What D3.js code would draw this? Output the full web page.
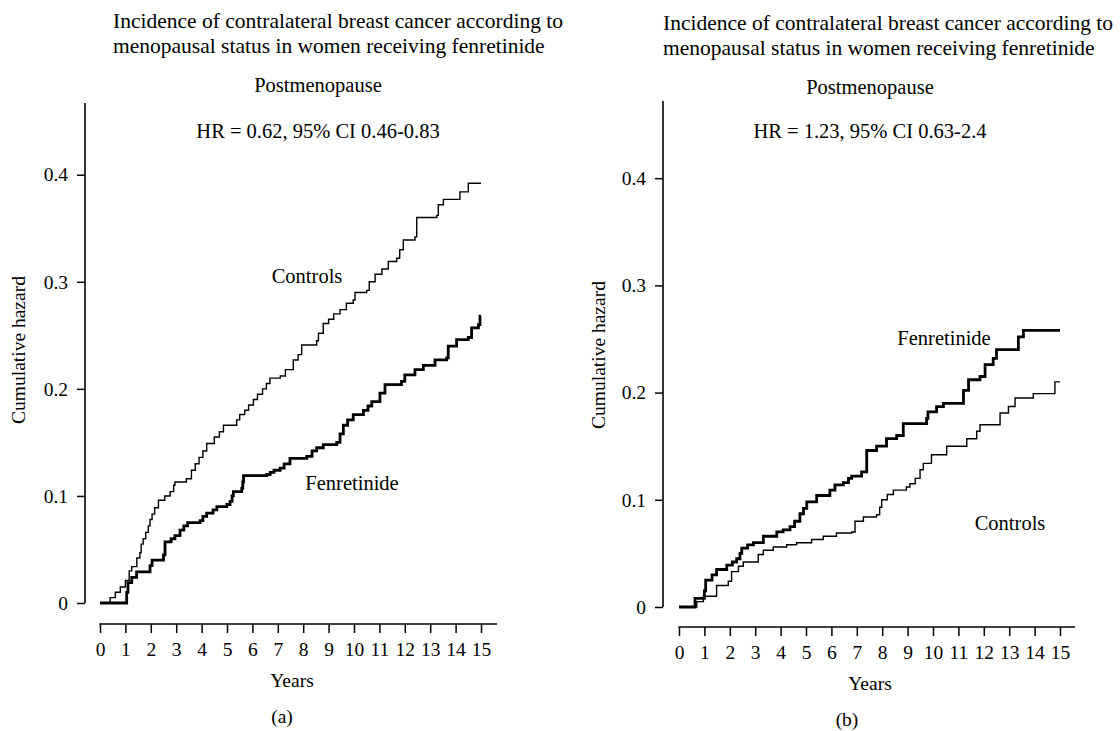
<!DOCTYPE html>
<html>
<head>
<meta charset="utf-8">
<script src="https://cdn.jsdelivr.net/npm/d3@7"></script>
<style>
  body { margin: 0; background: #fff; }
  svg { display: block; }
  svg text { font-family: "Liberation Serif", "DejaVu Serif", serif; fill: #000; }
</style>
</head>
<body>
<script>
// tick labels
const yearTicks = d3.range(0, 16);
const hazardTicks = [0, 0.1, 0.2, 0.3, 0.4];

// panel (a): step times (years) and cumulative hazard
const aControlsT = [0, 0.4, 0.6, 0.8, 1.0, 1.15, 1.25, 1.45, 1.57, 1.62, 1.7, 1.8, 1.9, 1.97, 2.05, 2.15, 2.3, 2.55, 2.76, 2.9, 2.95, 3.4, 3.6, 3.75, 3.9, 4.05, 4.2, 4.5, 4.7, 4.86, 5.38, 5.5, 5.7, 5.85, 6.04, 6.2, 6.4, 6.55, 6.69, 7.1, 7.3, 7.61, 7.8, 7.94, 8.53, 8.6, 8.79, 9.0, 9.2, 9.45, 9.7, 9.97, 10.04, 10.5, 10.6, 10.83, 11.1, 11.35, 11.68, 11.8, 11.94, 12.4, 12.47, 13.26, 13.32, 13.52, 14.17, 14.5, 15.0];
const aControlsV = [0, 0.005, 0.01, 0.015, 0.021, 0.03, 0.034, 0.042, 0.047, 0.055, 0.06, 0.066, 0.072, 0.078, 0.083, 0.089, 0.096, 0.1, 0.104, 0.11, 0.113, 0.116, 0.124, 0.13, 0.136, 0.142, 0.149, 0.155, 0.16, 0.166, 0.171, 0.176, 0.18, 0.185, 0.19, 0.195, 0.2, 0.205, 0.21, 0.212, 0.218, 0.227, 0.232, 0.241, 0.245, 0.252, 0.261, 0.265, 0.27, 0.274, 0.28, 0.283, 0.29, 0.292, 0.3, 0.307, 0.312, 0.319, 0.322, 0.33, 0.339, 0.342, 0.36, 0.362, 0.372, 0.377, 0.384, 0.392, 0.392];

const aFenT = [0, 1.05, 1.1, 1.25, 1.44, 1.97, 2.05, 2.5, 2.56, 2.8, 2.95, 3.15, 3.3, 3.45, 3.94, 4.05, 4.2, 4.45, 4.6, 4.99, 5.12, 5.2, 5.25, 5.58, 5.62, 5.65, 6.56, 6.7, 6.85, 7.09, 7.25, 7.48, 8.14, 8.35, 8.53, 8.79, 9.32, 9.45, 9.58, 9.75, 9.97, 10.37, 10.55, 10.7, 11.02, 11.22, 11.87, 12.0, 12.4, 12.73, 13.19, 13.65, 13.71, 14.04, 14.5, 14.63, 14.9, 14.96, 15.0];
const aFenV = [0, 0.01, 0.019, 0.024, 0.029, 0.035, 0.04, 0.045, 0.057, 0.06, 0.063, 0.068, 0.072, 0.075, 0.077, 0.081, 0.084, 0.087, 0.09, 0.092, 0.095, 0.1, 0.104, 0.107, 0.113, 0.119, 0.12, 0.122, 0.124, 0.126, 0.13, 0.135, 0.137, 0.142, 0.145, 0.148, 0.15, 0.158, 0.166, 0.171, 0.176, 0.18, 0.184, 0.188, 0.196, 0.204, 0.207, 0.213, 0.218, 0.222, 0.227, 0.229, 0.24, 0.246, 0.248, 0.257, 0.26, 0.268, 0.268];

// panel (b)
const bFenT = [0, 0.63, 1.0, 1.05, 1.3, 1.48, 1.88, 2.1, 2.27, 2.4, 2.47, 2.7, 2.93, 3.32, 3.85, 4.1, 4.37, 4.55, 4.76, 4.9, 5.03, 5.42, 5.94, 6.14, 6.47, 6.67, 6.8, 7.19, 7.39, 7.78, 8.17, 8.57, 8.83, 9.75, 9.8, 10.14, 10.41, 11.2, 11.4, 11.85, 12.05, 12.37, 12.5, 13.36, 13.56, 15.0];
const bFenV = [0, 0.008, 0.015, 0.025, 0.03, 0.035, 0.039, 0.042, 0.045, 0.05, 0.055, 0.058, 0.06, 0.066, 0.07, 0.072, 0.075, 0.08, 0.087, 0.092, 0.098, 0.104, 0.109, 0.114, 0.116, 0.12, 0.122, 0.126, 0.146, 0.15, 0.157, 0.16, 0.171, 0.176, 0.182, 0.187, 0.19, 0.202, 0.212, 0.215, 0.226, 0.232, 0.24, 0.252, 0.258, 0.258];

const bControlsT = [0, 0.7, 0.96, 1.48, 1.94, 2.07, 2.34, 2.53, 3.12, 3.32, 3.71, 4.24, 4.63, 5.22, 5.68, 6.2, 6.8, 6.93, 7.26, 7.78, 7.9, 7.98, 8.2, 8.44, 8.95, 9.09, 9.3, 9.49, 9.62, 9.94, 10.54, 11.33, 11.72, 11.85, 12.64, 12.97, 13.23, 13.95, 14.8, 15.0];
const bControlsV = [0, 0.005, 0.01, 0.02, 0.024, 0.033, 0.038, 0.042, 0.049, 0.053, 0.056, 0.058, 0.06, 0.063, 0.066, 0.069, 0.07, 0.08, 0.084, 0.086, 0.093, 0.1, 0.105, 0.109, 0.112, 0.115, 0.12, 0.128, 0.134, 0.142, 0.15, 0.157, 0.164, 0.17, 0.181, 0.187, 0.195, 0.199, 0.21, 0.21];

const titleLines = ["Incidence of contralateral breast cancer according to", "menopausal status in women receiving fenretinide"];

const width = 1120, height = 731;
const serif = "Liberation Serif, DejaVu Serif, serif";

const svg = d3.select("body").append("svg")
  .attr("width", width)
  .attr("height", height);

function zipSeries(ts, vs) {
  return ts.map((t, i) => ({ t, v: vs[i] }));
}

function drawPanel(p) {
  const g = svg.append("g").attr("font-family", serif);

  const x = d3.scaleLinear().domain([0, 15]).range([p.x0, p.x1]);
  const y = d3.scaleLinear().domain([0, p.yTop]).range([p.y0, p.y1]);

  // title block
  g.append("text")
    .attr("x", p.titleX).attr("y", p.titleY)
    .attr("font-size", 21.5)
    .selectAll("tspan")
    .data(titleLines)
    .join("tspan")
    .attr("x", p.titleX)
    .attr("dy", (d, i) => i ? 25 : 0)
    .text(d => d);

  g.append("text")
    .attr("x", p.subX).attr("y", p.titleY + 64)
    .attr("text-anchor", "middle")
    .attr("font-size", 20.5)
    .text("Postmenopause");

  g.append("text")
    .attr("x", p.subX).attr("y", 138)
    .attr("text-anchor", "middle")
    .attr("font-size", 20.5)
    .text(p.hr);

  // y axis
  const yAxis = g.append("g")
    .attr("transform", `translate(${p.axisX},0)`)
    .call(d3.axisLeft(y)
      .tickValues(hazardTicks)
      .tickSize(8)
      .tickPadding(9)
      .tickFormat(d => d === 0 ? "0" : d3.format(".1f")(d)));
  yAxis.attr("font-family", serif).attr("font-size", 19.5);
  yAxis.select(".domain").remove();
  yAxis.selectAll("line").attr("stroke", "#000").attr("stroke-width", 1.5);
  g.append("line")
    .attr("x1", p.axisX).attr("x2", p.axisX)
    .attr("y1", y(p.yTop)).attr("y2", y(0))
    .attr("stroke", "#000").attr("stroke-width", 1.6);

  g.append("text")
    .attr("transform", `translate(${p.ylabX},${p.ylabY}) rotate(-90)`)
    .attr("text-anchor", "middle")
    .attr("dy", "0.35em")
    .attr("font-size", 19.5)
    .text("Cumulative hazard");

  // x axis
  const xAxis = g.append("g")
    .attr("transform", `translate(0,${p.xAxisY})`)
    .call(d3.axisBottom(x)
      .tickValues(yearTicks)
      .tickSize(9)
      .tickPadding(9)
      .tickFormat(d3.format("d")));
  xAxis.attr("font-family", serif).attr("font-size", 19.5);
  xAxis.select(".domain").remove();
  xAxis.selectAll("line").attr("stroke", "#000").attr("stroke-width", 1.5);
  g.append("line")
    .attr("x1", x(0) - 0.75).attr("x2", p.xEnd)
    .attr("y1", p.xAxisY).attr("y2", p.xAxisY)
    .attr("stroke", "#000").attr("stroke-width", 1.6);

  g.append("text")
    .attr("x", p.yearsX).attr("y", p.xAxisY + 63)
    .attr("text-anchor", "middle")
    .attr("font-size", 19.5)
    .text("Years");

  g.append("text")
    .attr("x", p.tagX).attr("y", p.xAxisY + 99)
    .attr("text-anchor", "middle")
    .attr("font-size", 19.5)
    .text(p.tag);

  // step curves
  const line = d3.line()
    .x(d => x(d.t))
    .y(d => y(d.v))
    .curve(d3.curveStepAfter);

  g.append("path")
    .datum(p.controls)
    .attr("fill", "none")
    .attr("stroke", "#000")
    .attr("stroke-width", 1.4)
    .attr("d", line);

  g.append("path")
    .datum(p.fen)
    .attr("fill", "none")
    .attr("stroke", "#000")
    .attr("stroke-width", 2.8)
    .attr("d", line);

  // curve labels
  p.labels.forEach(l => {
    g.append("text")
      .attr("x", l.x).attr("y", l.y)
      .attr("text-anchor", "middle")
      .attr("font-size", 20.5)
      .text(l.text);
  });
}

drawPanel({
  x0: 100, x1: 481, xEnd: 497, xAxisY: 624,
  y0: 603, y1: 103, yTop: 0.467, axisX: 85,
  titleX: 113, titleY: 28, subX: 318,
  hr: "HR = 0.62, 95% CI 0.46-0.83",
  ylabX: 18, ylabY: 350,
  yearsX: 292, tagX: 282, tag: "(a)",
  controls: zipSeries(aControlsT, aControlsV),
  fen: zipSeries(aFenT, aFenV),
  labels: [
    { text: "Controls", x: 307, y: 283 },
    { text: "Fenretinide", x: 352, y: 490 }
  ]
});

drawPanel({
  x0: 679, x1: 1060, xEnd: 1075, xAxisY: 627,
  y0: 607, y1: 101, yTop: 0.472, axisX: 663,
  titleX: 663, titleY: 30, subX: 870,
  hr: "HR = 1.23, 95% CI 0.63-2.4",
  ylabX: 598, ylabY: 355,
  yearsX: 870, tagX: 847, tag: "(b)",
  controls: zipSeries(bControlsT, bControlsV),
  fen: zipSeries(bFenT, bFenV),
  labels: [
    { text: "Fenretinide", x: 944, y: 345 },
    { text: "Controls", x: 1010, y: 530 }
  ]
});
</script>
</body>
</html>
